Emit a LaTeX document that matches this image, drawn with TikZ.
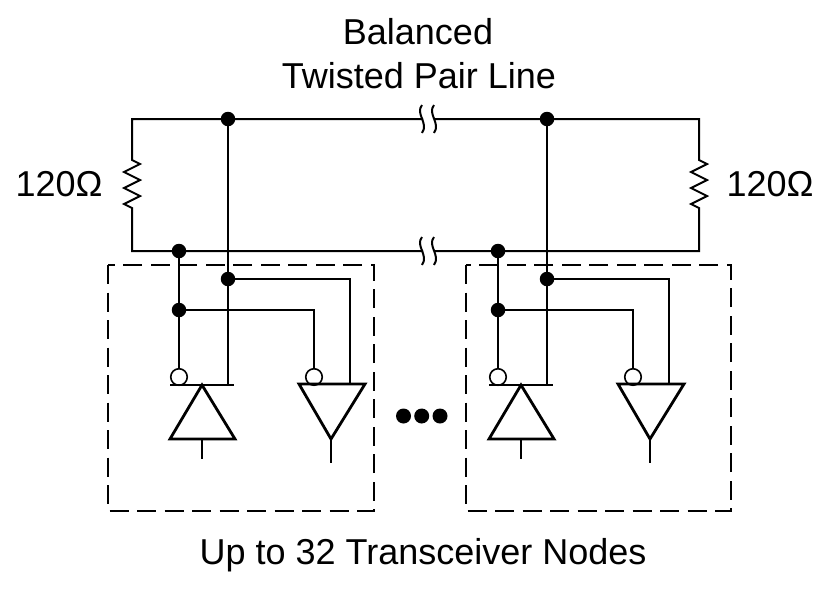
\documentclass[tikz,border=0pt]{standalone}
\usepackage{fontspec}
\setmainfont{Liberation Sans}
\usetikzlibrary{calc}
\def\breakmark(#1,#2){\draw[wire] ({#1-1},{#2-14}) .. controls ({#1-8},{#2-5}) and ({#1+6},{#2+4}) .. ({#1-1},{#2+14});}
\tikzset{
	wire/.style={line width=2pt},
	heavy/.style={line width=2.8pt, line join=miter},
	jdot/.style={circle, fill=black, inner sep=0pt, minimum size=14.5pt},
	bubble/.style={circle, draw, fill=white, line width=1.6pt, inner sep=0pt, minimum size=16.5pt},
	nodebox/.style={line width=1.8pt, dash pattern=on 19pt off 8.5pt},
	label/.style={font=\fontsize{36}{40}\selectfont, inner sep=0pt}
}

\begin{document}
\begin{tikzpicture}[x=1pt, y=-1pt]
	\useasboundingbox (0, 0) rectangle (838, 590);
	
	%%%%% LABELS %%%%%
	\node[label] (title1) at (418, 32) {Balanced};
	\node[label] (title2) at (419, 76) {Twisted Pair Line};
	\node[label] (rleft) at (59, 184) {120Ω};
	\node[label] (rright) at (770, 184) {120Ω};
	\node[label] (caption) at (423, 555) {Up to 32 Transceiver Nodes};
	
	%%%%% BUS %%%%%
	\coordinate (tl) at (132, 119);
	\coordinate (tr) at (699, 119);
	\coordinate (bl) at (132, 251);
	\coordinate (br) at (699, 251);
	\coordinate (tgapa) at (423, 119);
	\coordinate (tgapb) at (435, 119);
	\coordinate (bgapa) at (423, 251);
	\coordinate (bgapb) at (435, 251);
	
	\draw[wire] (tgapa) -- (tl) -- (132, 160) -- (140, 164) -- (124, 172) -- (140, 180) -- (124, 188) -- (140, 196) -- (124, 204) -- (132, 208) -- (bl) -- (bgapa);
	\draw[wire] (tgapb) -- (tr) -- (699, 160) -- (707, 164) -- (691, 172) -- (707, 180) -- (691, 188) -- (707, 196) -- (691, 204) -- (699, 208) -- (br) -- (bgapb);
	
	\breakmark(423,119);
	\breakmark(435,119);
	\breakmark(423,251);
	\breakmark(435,251);
	
	%%%%% TRANSCEIVERS %%%%%
	\draw[nodebox] (108, 265) rectangle (374, 511);
	\draw[nodebox] (466, 265) rectangle (731, 511);
	
	\foreach \xo/\nm in {0/a, 319/b} {
		\begin{scope}[xshift=\xo pt]
			\node[jdot] (top\nm) at (228, 119) {};
			\node[jdot] (bot\nm) at (179, 251) {};
			\node[jdot] (hi\nm) at (228, 279) {};
			\node[jdot] (lo\nm) at (179, 310) {};
			\node[bubble] (rxbub\nm) at (179, 377) {};
			\node[bubble] (txbub\nm) at (314, 377) {};
			
			\coordinate (barl\nm) at (170, 385);
			\coordinate (barr\nm) at (234, 385);
			\coordinate (barm\nm) at (228, 385);
			\coordinate (hiend\nm) at (350, 384);
			
			\draw[wire] (bot\nm) -- (lo\nm) -- (rxbub\nm);
			\draw[wire] (top\nm) -- (hi\nm) -- (barm\nm);
			\draw[wire] (barl\nm) -- (barr\nm);
			\draw[wire] (hi\nm) -| (hiend\nm);
			\draw[wire] (lo\nm) -| (txbub\nm);
			
			% up triangle
			\draw[heavy] (202, 385) -- (235, 439) -- (170, 439) -- cycle;
			\draw[wire] (202, 439) -- (202, 459);
			
			% down triangle
			\draw[heavy] (299, 384) -- (365, 384) -- (331, 439) -- cycle;
			\draw[wire] (331, 439) -- (331, 463);
		\end{scope}
	}
	
	%%%%% DOTS %%%%%
	\foreach \xd in {403.5, 421.7, 440} {
		\fill (\xd, 416) circle (7.5);
	}
\end{tikzpicture}
\end{document}
